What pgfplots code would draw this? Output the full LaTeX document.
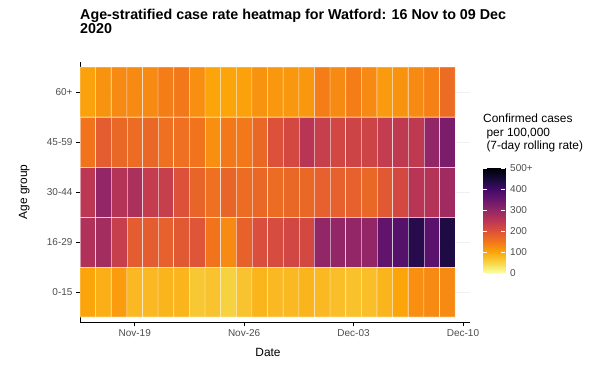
\documentclass[border=0pt]{standalone}
\usepackage{pgfplots}
\pgfplotsset{compat=1.18}
\usepackage{fontspec}
\setmainfont{Liberation Sans}
\definecolor{gray30}{RGB}{77,77,77}
\pgfplotsset{
  colormap={infr}{rgb255=(252,255,164) rgb255=(246,215,70) rgb255=(252,165,10) rgb255=(243,120,25) rgb255=(221,81,58) rgb255=(188,55,84) rgb255=(147,38,103) rgb255=(106,23,110) rgb255=(66,10,104) rgb255=(22,11,57) rgb255=(0,0,4)},
}
\begin{document}
\begin{tikzpicture}
\path[use as bounding box] (0bp,0bp) rectangle (589bp,-365bp);
\begin{axis}[
  at={(80bp,-322bp)}, anchor=south west,
  scale only axis, width=390bp, height=260bp,
  xmin=-0.5, xmax=24.45, ymin=0.4, ymax=5.6,
  axis x line*=bottom, axis y line*=left,
  axis line style={-, black, line width=0.7bp},
  xtick={3,10,17,24}, xticklabels={Nov-19,Nov-26,Dec-03,Dec-10},
  ytick={1,2,3,4,5}, yticklabels={0-15,16-29,30-44,45-59,60+},
  tick align=outside, major tick length=4bp,
  tick style={black, line width=0.7bp},
  ticklabel style={font=\fontsize{10bp}{11bp}\selectfont, text=gray30},
  ymajorgrids, grid style={gray!12, line width=0.9bp},
  colormap name=infr,
  point meta min=0, point meta max=500,
]
\addplot[matrix plot*, mesh/cols=24, point meta=explicit, draw=white, draw opacity=0.5, line width=0.6bp] coordinates {
(0,1)[100] (1,1)[90] (2,1)[110] (3,1)[80] (4,1)[80] (5,1)[85] (6,1)[85] (7,1)[65] (8,1)[70] (9,1)[55] (10,1)[70] (11,1)[85] (12,1)[80] (13,1)[80] (14,1)[85] (15,1)[80] (16,1)[75] (17,1)[72] (18,1)[75] (19,1)[85] (20,1)[100] (21,1)[125] (22,1)[130] (23,1)[130]
(0,2)[265] (1,2)[280] (2,2)[235] (3,2)[185] (4,2)[185] (5,2)[180] (6,2)[190] (7,2)[195] (8,2)[155] (9,2)[130] (10,2)[178] (11,2)[205] (12,2)[210] (13,2)[220] (14,2)[215] (15,2)[300] (16,2)[300] (17,2)[300] (18,2)[300] (19,2)[360] (20,2)[375] (21,2)[430] (22,2)[370] (23,2)[440]
(0,3)[250] (1,3)[300] (2,3)[260] (3,3)[270] (4,3)[240] (5,3)[235] (6,3)[200] (7,3)[175] (8,3)[160] (9,3)[175] (10,3)[165] (11,3)[170] (12,3)[165] (13,3)[170] (14,3)[170] (15,3)[180] (16,3)[180] (17,3)[180] (18,3)[170] (19,3)[190] (20,3)[215] (21,3)[255] (22,3)[260] (23,3)[285]
(0,4)[155] (1,4)[185] (2,4)[170] (3,4)[165] (4,4)[170] (5,4)[160] (6,4)[160] (7,4)[155] (8,4)[125] (9,4)[150] (10,4)[150] (11,4)[170] (12,4)[200] (13,4)[215] (14,4)[255] (15,4)[235] (16,4)[220] (17,4)[225] (18,4)[225] (19,4)[240] (20,4)[245] (21,4)[245] (22,4)[300] (23,4)[330]
(0,5)[105] (1,5)[120] (2,5)[130] (3,5)[130] (4,5)[130] (5,5)[145] (6,5)[150] (7,5)[125] (8,5)[100] (9,5)[100] (10,5)[105] (11,5)[120] (12,5)[115] (13,5)[115] (14,5)[115] (15,5)[145] (16,5)[130] (17,5)[145] (18,5)[130] (19,5)[112] (20,5)[120] (21,5)[130] (22,5)[140] (23,5)[165]
};
\end{axis}
% colour bar
\begin{axis}[
  at={(483bp,-273bp)}, anchor=south west,
  scale only axis, width=22bp, height=105bp,
  xmin=0, xmax=1, ymin=0, ymax=500,
  axis line style={draw=none},
  xtick=\empty,
  ytick={0,100,200,300,400,500}, yticklabels={0,100,200,300,400,500+},
  ytick pos=both, yticklabel pos=right,
  tick align=inside, major tick length=4.4bp,
  tick style={white, line width=0.6bp},
  yticklabel style={font=\fontsize{10bp}{11bp}\selectfont, text=gray30, inner sep=0pt, anchor=west, xshift=5bp},
  colormap name=infr,
  point meta min=0, point meta max=500,
  axis on top,
]
\addplot[surf, shader=interp, mesh/cols=2, point meta=y] coordinates {
(0,0) (1,0)
(0,50) (1,50)
(0,100) (1,100)
(0,150) (1,150)
(0,200) (1,200)
(0,250) (1,250)
(0,300) (1,300)
(0,350) (1,350)
(0,400) (1,400)
(0,450) (1,450)
(0,500) (1,500)
};
\end{axis}
\node[anchor=base west, inner sep=0pt, font=\fontsize{14.3bp}{16bp}\selectfont\bfseries] at (80bp,-19bp) {Age-stratified case rate heatmap for Watford: 16 Nov to 09 Dec};
\node[anchor=base west, inner sep=0pt, font=\fontsize{14.3bp}{16bp}\selectfont\bfseries] at (80bp,-33bp) {2020};
\node[anchor=base, inner sep=0pt, font=\fontsize{11.9bp}{14bp}\selectfont] at (268bp,-356.5bp) {Date};
\node[anchor=base, rotate=90, inner sep=0pt, font=\fontsize{11.9bp}{14bp}\selectfont] at (27bp,-192bp) {Age group};
\node[anchor=base west, inner sep=0pt, font=\fontsize{11.9bp}{14bp}\selectfont] at (483bp,-122bp) {Confirmed cases};
\node[anchor=base west, inner sep=0pt, font=\fontsize{11.9bp}{14bp}\selectfont] at (483bp,-136bp) {\hspace*{0.28em}per 100,000};
\node[anchor=base west, inner sep=0pt, font=\fontsize{11.9bp}{14bp}\selectfont] at (483bp,-149.5bp) {\hspace*{0.28em}(7-day rolling rate)};
\end{tikzpicture}
\end{document}
